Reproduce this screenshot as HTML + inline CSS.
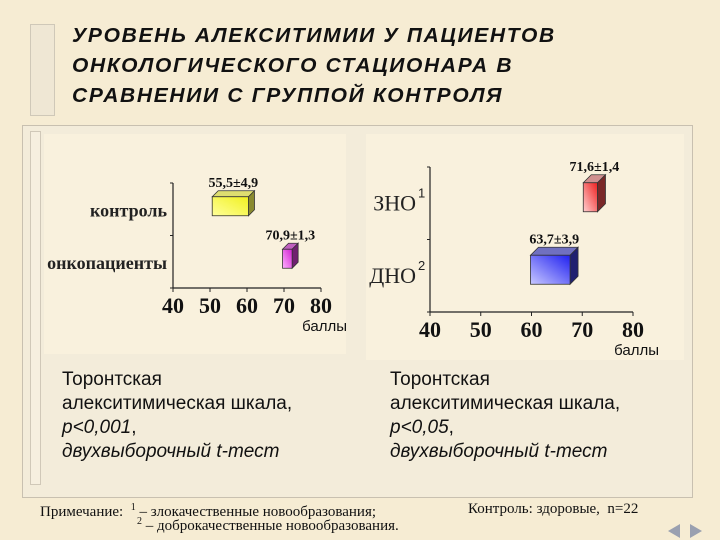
<!DOCTYPE html>
<html><head><meta charset="utf-8"><style>
body{margin:0;width:720px;height:540px;overflow:hidden;background:#f6ecd3;font-family:"Liberation Sans","DejaVu Sans",sans-serif;}
.abs{position:absolute}
.title{left:72px;top:21px;font:italic bold 20px/30px "Liberation Sans",sans-serif;letter-spacing:1.6px;color:#111;transform:scaleX(1.05);transform-origin:left;}
.cap{font:19px/24px "Liberation Sans",sans-serif;color:#111;}
.note{font:15px/16px "Liberation Serif",serif;color:#111;}
</style></head><body>
<div class="abs" style="left:30px;top:24px;width:23px;height:90px;background:#efe7d4;border:1px solid #cfc8b8;"></div>
<div class="abs title">УРОВЕНЬ АЛЕКСИТИМИИ У ПАЦИЕНТОВ<br>ОНКОЛОГИЧЕСКОГО СТАЦИОНАРА В<br>СРАВНЕНИИ С ГРУППОЙ КОНТРОЛЯ</div>
<div class="abs" style="left:22px;top:125px;width:669px;height:371px;background:#f3ecda;border:1px solid #c8c0b0;"></div>
<div class="abs" style="left:30px;top:131px;width:9px;height:352px;background:#f6efdf;border:1px solid #d0c8b8;"></div>
<div class="abs" style="left:44px;top:134px;width:302px;height:220px;background:#f9f1dd;"></div>
<div class="abs" style="left:366px;top:134px;width:318px;height:226px;background:#f9f1dd;"></div>
<svg class="abs" style="left:0;top:0" width="720" height="540">
<defs>
<linearGradient id="gy" x1="0" y1="1" x2="1" y2="0"><stop offset="0" stop-color="#ffff99"/><stop offset="1" stop-color="#f0f020"/></linearGradient>
<linearGradient id="gp" x1="0" y1="1" x2="1" y2="0"><stop offset="0" stop-color="#ffb0ff"/><stop offset="1" stop-color="#d020d0"/></linearGradient>
<linearGradient id="gr" x1="0" y1="1" x2="1" y2="0"><stop offset="0" stop-color="#ffd0d0"/><stop offset="1" stop-color="#ee2020"/></linearGradient>
<linearGradient id="gb" x1="0" y1="1" x2="1" y2="0"><stop offset="0" stop-color="#c8c8ff"/><stop offset="1" stop-color="#2020f0"/></linearGradient>
</defs>
<g id="c1"></g><g id="c2"></g>
</svg>
<div class="abs cap" style="left:62px;top:368px;">Торонтская<br>алекситимическая шкала,<br><i>р&lt;0,001</i>,<br><i>двухвыборочный t-тест</i></div>
<div class="abs cap" style="left:390px;top:368px;">Торонтская<br>алекситимическая шкала,<br><i>р&lt;0,05</i>,<br><i>двухвыборочный t-тест</i></div>
<div class="abs note" style="left:40px;top:500px;">Примечание:&nbsp; <sup style="font-size:10px">1</sup> – злокачественные новообразования;</div>
<div class="abs note" style="left:137px;top:514px;"><sup style="font-size:10px">2</sup> – доброкачественные новообразования.</div>
<div class="abs note" style="left:468px;top:501px;">Контроль: здоровые,&nbsp; n=22</div>
<div class="abs" style="left:668px;top:524px;width:0;height:0;border-top:7px solid transparent;border-bottom:7px solid transparent;border-right:12px solid #9aa0b0;"></div>
<div class="abs" style="left:690px;top:524px;width:0;height:0;border-top:7px solid transparent;border-bottom:7px solid transparent;border-left:12px solid #9aa0b0;"></div>
<script>
const ticks=[40,50,60,70,80];
const cats1=["контроль","онкопациенты"];
const means1=[55.5,70.9];
const sds1=[4.9,1.3];
const labels1=["55,5±4,9","70,9±1,3"];
const cats2=["ЗНО","ДНО"];
const sups2=["1","2"];
const means2=[71.6,63.7];
const sds2=[1.4,3.9];
const labels2=["71,6±1,4","63,7±3,9"];
const NS="http://www.w3.org/2000/svg";
function mk(p,t,a,txt){const e=document.createElementNS(NS,t);for(const k in a)e.setAttribute(k,a[k]);if(txt!=null)e.textContent=txt;p.appendChild(e);return e;}
function chart(g,o){
  const x=v=>o.x0+(v-40)/40*(o.x1-o.x0);
  const bandH=(o.yb-o.yt)/o.cats.length;
  let e=mk(g,'line',{x1:o.x0,y1:o.yt,x2:o.x0,y2:o.yb,stroke:'#222','stroke-width':1.2});
  
  e=mk(g,'line',{x1:o.x0,y1:o.yb,x2:o.x1,y2:o.yb,stroke:'#222','stroke-width':1.2});
  
  for(let i=0;i<=o.cats.length;i++){const yy=o.yt+i*bandH;mk(g,'line',{x1:o.x0-3,y1:yy,x2:o.x0,y2:yy,stroke:'#222'});}
  ticks.forEach(t=>{mk(g,'line',{x1:x(t),y1:o.yb,x2:x(t),y2:o.yb+4,stroke:'#222'});
    const tl=mk(g,'text',{x:x(t),y:o.yb+25,'text-anchor':'middle','font-family':'Liberation Serif','font-size':22,'font-weight':'bold',fill:'#111'},t);
    });
  const xl=mk(g,'text',{x:o.x1+26,y:o.yb+43,'text-anchor':'end','font-family':'Liberation Sans','font-size':15,fill:'#111'},'баллы');
  
  o.cats.forEach((c,i)=>{
    const cy=o.yt+(i+0.5)*bandH;
    const cl=mk(g,'text',{x:o.x0-6-(o.sups?8:0),y:cy+7,'text-anchor':'end','font-family':'Liberation Serif','font-size':o.cf,'font-weight':o.cw,fill:'#222'},c);
    
    if(o.sups){mk(g,'text',{x:o.x0-12,y:cy-6,'font-family':'Liberation Sans','font-size':13,fill:'#222'},o.sups[i]);}
    const m=o.means[i],s=o.sds[i],L=x(m-s),R=x(m+s),h=o.bh,T=cy-h/2+o.boff,d=o.d;
    const bar=mk(g,'g',{});
    
    mk(bar,'polygon',{points:`${L},${T} ${L+d},${T-d} ${R+d},${T-d} ${R},${T}`,fill:o.top[i],stroke:'#333','stroke-width':0.8});
    mk(bar,'polygon',{points:`${R},${T} ${R+d},${T-d} ${R+d},${T+h-d} ${R},${T+h}`,fill:o.side[i],stroke:'#333','stroke-width':0.8});
    mk(bar,'rect',{x:L,y:T,width:R-L,height:h,fill:o.fill[i],stroke:'#333','stroke-width':0.8});
    const vl=mk(g,'text',{x:(L+R)/2+d/2,y:T-d-4,'text-anchor':'middle','font-family':'Liberation Serif','font-size':14,'font-weight':'bold',fill:'#111'},o.labels[i]);
    
  });
}
chart(document.getElementById('c1'),{x0:173,x1:321,yt:183,yb:288,cats:cats1,means:means1,sds:sds1,labels:labels1,bh:19,boff:-3,d:6,cf:18,cw:'bold',
 fill:['url(#gy)','url(#gp)'],top:['#dede70','#c060c0'],side:['#8a8a30','#702070']});
chart(document.getElementById('c2'),{x0:430,x1:633,yt:167,yb:312,cats:cats2,sups:sups2,means:means2,sds:sds2,labels:labels2,bh:29,boff:-6,d:8,cf:22,cw:'normal',
 fill:['url(#gr)','url(#gb)'],top:['#d09090','#7070c0'],side:['#7a2828','#202070']});
</script>
</body></html>
